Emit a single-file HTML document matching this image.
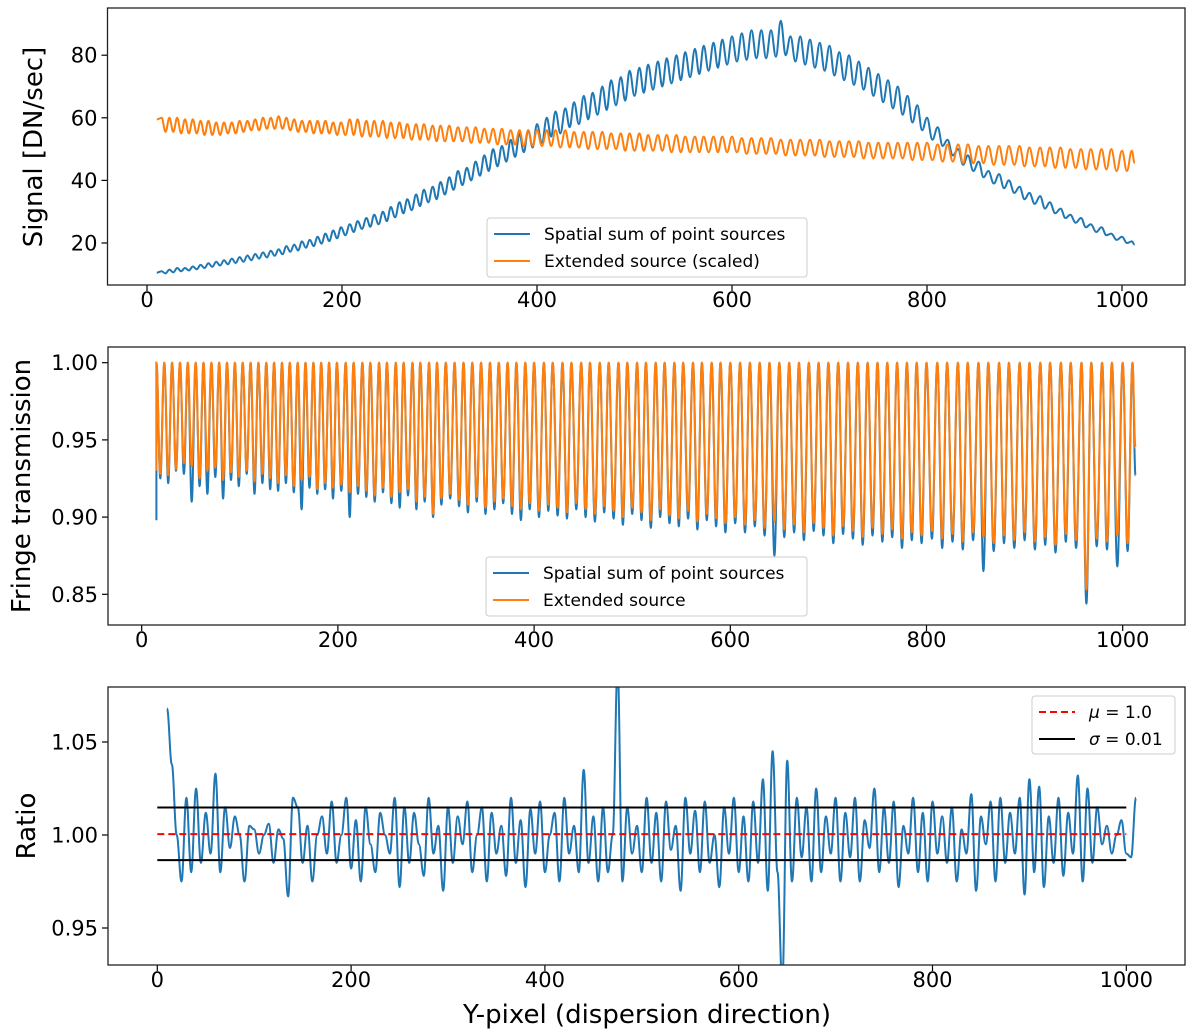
<!DOCTYPE html>
<html><head><meta charset="utf-8"><style>
html,body{margin:0;padding:0;background:#fff}
svg{display:block;font-family:"DejaVu Sans","Liberation Sans",sans-serif}
</style></head><body>
<svg id="fig" width="1200" height="1032" viewBox="0 0 1200 1032" xmlns="http://www.w3.org/2000/svg">
<defs>
<clipPath id="c1"><rect x="107.5" y="8" width="1077.5" height="277"/></clipPath>
<clipPath id="c2"><rect x="108" y="347" width="1077" height="278"/></clipPath>
<clipPath id="c3"><rect x="108" y="687" width="1077" height="278"/></clipPath>
</defs>
</svg>
<script>
// ---- data ----
const xTicks = [0,200,400,600,800,1000];
const p1YTicks = [20,40,60,80];
const p2YTicks = [0.85,0.90,0.95,1.00];
const p2YLabels = ["0.85","0.90","0.95","1.00"];
const p3YTicks = [0.95,1.00,1.05];
const p3YLabels = ["0.95","1.00","1.05"];
const fringeX = [15,23,31,39,47,55,63,71,79,87,95,103,111,119,127,135,143,151,159,167,175,183,191,199,
208,216,225,233,242,250,259,267,276,284,293,301,
310,319,328,337,346,355,364,373,382,391,400,
410,419,429,438,448,457,467,476,486,495,505,514,524,533,543,552,562,571,581,590,600,
610,620,630,640,650,660,670,680,690,700,710,720,730,740,750,760,770,780,790,800,
811,821,832,842,853,863,874,884,895,905,916,926,937,947,958,968,979,989,1000,1010];
const sigBluePeaks = [11,11.5,12,12,12.5,13,13.5,14,14.5,15,15.5,16,16.5,17,17.5,18,19,19.5,20.5,21,22,23,24,25,
26,27,28,29,30,31.5,33,34,35.5,37,38,39.5,
41,43,44,46,48,50,51,53,55,56,58,
60,62,63,65,67,68,70,72,73,75,76,77,78,79,80,81,82,83,84,85,86,
87,88,88,88,91,86,86,85,84,83,81,80,78,76,74,72,70,67,64,60,
57,53,50,48,46,43,42,40,38,36,35,33,31,29,28,26,25,23,22,20.5];
const sigBlueTroughs = [10.3,10.6,11,11.2,11.6,12,12.4,12.8,13.2,13.6,14,14.5,15,15.4,15.9,16.4,17.2,17.6,18.5,19,19.8,20.6,21.5,22.5,
23.5,24.5,25.2,26,27,28.2,29.5,30.5,31.8,33,34,35.5,
37,38.5,40,41.5,43,44.5,46,47.5,49,50.5,52,
54,55,57,58,59.5,61,62.5,64,65.5,67,68,69,70,71,72,73,74,75,76,77,78,
78.5,79,79,79.5,80,78,77,76,75,73.5,72,70.5,69,67,65,63,61,58.5,56,53,
51,48,45,43,41,39,37.5,36,34,32.5,31,29.5,28,26.5,25,23.5,22.5,21,20,19];
const sigOrangePeaks = [60,60,60,59.5,59.5,59,59,58.5,58.5,58.5,59,59,59.5,60,60,60.5,60,59.5,59,59,59,59,58.5,58.5,
59.5,59.5,59,59,59,58.5,58.5,58,58,58,57.5,57.5,
57.5,57,57,57,56.5,56.5,56.5,56,56,56,56,
56,56,56,55.5,55.5,55.5,55.5,55,55,55,55,54.5,54.5,54.5,54.5,54,54,54,54,54,54,
53.5,53.5,53.5,53.5,53,53,53,53,53,52.5,52.5,52.5,52.5,52,52,52,52,52,52,52,
51.5,51.5,51.5,51.5,51,51,51,51,51,50.5,50.5,50.5,50.5,50,50,50,50,50,49.5,49.5];
const sigOrangeTroughs = [55.5,55.5,55,55,55,54.5,54.5,54.5,55,55,55.5,56,56,56.5,56.5,56.5,56,55.5,55.5,55,55,55,54.5,54.5,
54.5,54,54,54,53.5,53.5,53.5,53,53,53,52.5,52.5,
52.5,52.5,52,52,52,51.5,51.5,51.5,51,51,51,
51,50.5,50.5,50.5,50,50,50,50,49.5,49.5,49.5,49.5,49.5,49,49,49,49,49,49,49,49,
48.5,48.5,48.5,48.5,48,48,48,48,47.5,47.5,47.5,47.5,47,47,47,47,47,46.5,46.5,46.5,
46,46,45.5,45.5,45.5,45,45,45,44.5,44.5,44.5,44,44,44,43.5,43.5,43.5,43,43,43];
const fringeOrangeTroughs = [.928,.927,.931,.935,.933,.925,.930,.932,.924,.929,.926,.930,.923,.928,.925,.922,.927,.920,.924,.926,.918,.922,.919,.921,
.916,.920,.917,.914,.919,.913,.916,.918,.910,.913,.902,.912,
.915,.911,.908,.913,.906,.910,.912,.907,.905,.909,.904,
.908,.906,.903,.909,.905,.902,.907,.904,.900,.906,.903,.898,.905,.901,.899,.904,.897,.902,.899,.896,.900,
.895,.898,.893,.897,.892,.895,.890,.896,.893,.888,.894,.891,.887,.893,.889,.892,.886,.890,.888,.891,
.886,.889,.884,.890,.887,.883,.888,.885,.890,.884,.887,.882,.889,.885,.853,.886,.884,.888,.883,.887];
const fringeBlueTroughs = [.925,.922,.930,.928,.910,.920,.915,.926,.912,.924,.920,.928,.915,.922,.918,.917,.922,.916,.905,.919,.915,.918,.912,.917,
.900,.915,.913,.910,.916,.909,.906,.914,.905,.910,.900,.908,
.912,.907,.903,.910,.902,.905,.909,.902,.898,.905,.900,
.904,.901,.899,.905,.900,.897,.903,.899,.895,.902,.898,.893,.900,.896,.894,.899,.892,.898,.894,.890,.896,
.890,.894,.888,.875,.887,.890,.885,.891,.888,.883,.889,.886,.882,.888,.884,.887,.880,.885,.883,.886,
.880,.884,.879,.885,.865,.878,.883,.880,.885,.879,.882,.877,.884,.880,.844,.881,.879,.868,.878,.882];
const fringeStart = {x:15, blue:0.898, orange:0.930};
const fringeEnd = {x:1013, blue:0.927, orange:0.945};
const sigStart = {x:10, blue:10.5, orange:59.5};
const sigEnd = {x:1013, blue:19.5, orange:45.5};
const ratioX0 = 10, ratioStep = 5;
const ratioValues = [1.068,1.038,1.0,0.975,1.02,0.98,1.025,0.985,1.012,0.99,1.033,0.98,1.015,0.993,1.01,1.0,0.975,1.005,1.003,0.99,
1.0,1.006,0.985,1.003,0.998,0.967,1.02,1.015,0.985,1.005,0.975,1.0,1.01,0.99,1.018,0.985,1.0,1.02,0.982,1.008,
0.975,1.015,0.995,0.98,1.012,1.0,0.99,1.02,0.972,1.015,0.985,1.012,0.995,0.978,1.02,0.99,1.005,0.97,1.015,0.985,
1.01,0.995,1.018,0.98,1.0,1.015,0.975,1.012,0.99,1.005,0.978,1.02,0.985,1.008,0.972,1.014,0.99,1.018,0.98,1.0,
1.012,0.975,1.02,0.99,1.005,0.98,1.035,0.985,1.01,0.975,1.015,0.98,1.0,1.09,0.975,1.015,0.99,1.005,0.98,1.02,
0.985,1.012,0.975,1.018,0.992,1.005,0.97,1.02,0.99,1.013,0.98,1.018,0.985,1.0,0.972,1.015,0.99,1.02,0.98,1.01,
0.975,1.018,0.985,1.03,0.97,1.045,0.98,0.92,1.04,0.975,1.02,0.988,1.015,0.975,1.025,0.98,1.01,0.99,1.02,0.975,
1.012,0.988,1.02,0.975,1.008,0.993,1.025,0.98,1.015,0.985,1.018,0.972,1.005,0.99,1.02,0.98,1.012,0.975,1.018,0.99,
1.01,0.985,1.015,0.975,1.003,0.99,1.022,0.97,1.01,0.995,1.018,0.975,1.02,0.985,1.012,0.99,1.02,0.968,1.03,0.98,
1.026,0.972,1.01,0.985,1.02,0.978,1.012,0.99,1.032,0.975,1.025,0.985,1.015,0.995,1.005,0.99,1.0,1.008,0.99,0.988,1.02];
const muValue = 1.0005, sigmaHi = 1.0148, sigmaLo = 0.9865, refX0 = 0, refX1 = 1000;

// ---- axes ----
const BLUE="#1f77b4", ORANGE="#ff7f0e";
const NS="http://www.w3.org/2000/svg";
const svg=document.getElementById('fig');
function el(tag,attrs,parent,txt){const e=document.createElementNS(NS,tag);for(const k in attrs)e.setAttribute(k,attrs[k]);if(txt!==undefined)e.textContent=txt;(parent||svg).appendChild(e);return e;}
const x1=v=>147+0.975*v, y1=v=>243-(v-20)*3.13;
const x2=v=>141.7+0.981*v, y2=v=>362.7+(1-v)*1544;
const x3=v=>157.3+0.969*v, y3=v=>835-(v-1)*1860;

function smoothPath(pts){
  let d=`M${pts[0][0].toFixed(1)},${pts[0][1].toFixed(1)}`;
  for(let i=1;i<pts.length;i++){const a=pts[i-1],b=pts[i];const dx=(b[0]-a[0])/2.6;
    d+=`C${(a[0]+dx).toFixed(1)},${a[1].toFixed(1)} ${(b[0]-dx).toFixed(1)},${b[1].toFixed(1)} ${b[0].toFixed(1)},${b[1].toFixed(1)}`;}
  return d;}
function fringePts(start,end,peaks,troughs,xf,yf,peakConst){
  const pts=[[xf(start.x),yf(start.v)]];
  for(let i=0;i<fringeX.length;i++){
    const pv=peakConst!==undefined?peakConst:peaks[i];
    pts.push([xf(fringeX[i]),yf(pv)]);
    if(i<fringeX.length-1){const tx=(fringeX[i]+fringeX[i+1])/2;pts.push([xf(tx),yf(troughs[i])]);}
  }
  pts.push([xf(end.x),yf(end.v)]);return pts;}

function axes(name,box,xf,yTicks,yLabels,yf,ylabel,ylx,yly,xlabY){
  const g=el('g',{},svg);
  
  
  xTicks.forEach(t=>{const X=xf(t);
    const tk=el('line',{x1:X,x2:X,y1:box[3],y2:box[3]+6,stroke:'#000','stroke-width':1.2},g);
    
    const tl=el('text',{x:X,y:xlabY,'text-anchor':'middle','font-size':21},g,String(t));
    });
  yTicks.forEach((t,i)=>{const Y=yf(t);
    const tk=el('line',{x1:box[0]-6,x2:box[0],y1:Y,y2:Y,stroke:'#000','stroke-width':1.2},g);
    
    const tl=el('text',{x:box[0]-10,y:Y+7.5,'text-anchor':'end','font-size':21},g,yLabels?yLabels[i]:String(t));
    });
  const yl=el('text',{x:ylx,y:yly,'text-anchor':'middle','font-size':26,transform:`rotate(-90 ${ylx} ${yly})`},g,ylabel);
  
  return g;}
function frame(box){const r=el('rect',{x:box[0],y:box[1],width:box[2]-box[0],height:box[3]-box[1],fill:'none',stroke:'#222','stroke-width':1.3});
  }
function legend(x,y,w,h,items,name){
  const g=el('g',{},svg);
  
  
  el('rect',{x:x,y:y,width:w,height:h,rx:3,fill:'#fff','fill-opacity':0.85,stroke:'#ccc'},g);
  items.forEach((it,i)=>{const cy=y+16+i*27;
    const ln=el('line',{x1:x+7,x2:x+43,y1:cy,y2:cy,stroke:it.c,'stroke-width':2,'stroke-dasharray':it.dash||'none'},g);
    
    const t=el('text',{x:x+57,y:cy+6,'font-size':17},g);
    
    if(it.sym){const s=el('tspan',{'font-style':'italic'},t,it.sym);el('tspan',{},t,it.t);}else t.textContent=it.t;});}

// Panel 1
const B1=[107.5,8,1185,285];
axes('signal-axes',B1,x1,p1YTicks,null,y1,'Signal [DN/sec]',42,147,307);
let g1=el('g',{'clip-path':'url(#c1)'});
let s=el('path',{d:smoothPath(fringePts({x:sigStart.x,v:sigStart.blue},{x:sigEnd.x,v:sigEnd.blue},sigBluePeaks,sigBlueTroughs,x1,y1)),fill:'none',stroke:BLUE,'stroke-width':2},g1);


s=el('path',{d:smoothPath(fringePts({x:sigStart.x,v:sigStart.orange},{x:sigEnd.x,v:sigEnd.orange},sigOrangePeaks,sigOrangeTroughs,x1,y1)),fill:'none',stroke:ORANGE,'stroke-width':2},g1);


frame(B1);
legend(487,218,320,59,[{c:BLUE,t:'Spatial sum of point sources'},{c:ORANGE,t:'Extended source (scaled)'}],'signal-legend');

// Panel 2
const B2=[108,347,1185,625];
axes('fringe-axes',B2,x2,p2YTicks,p2YLabels,y2,'Fringe transmission',30,486,647);
let g2=el('g',{'clip-path':'url(#c2)'});
s=el('path',{d:smoothPath(fringePts({x:fringeStart.x,v:fringeStart.blue},{x:fringeEnd.x,v:fringeEnd.blue},null,fringeBlueTroughs,x2,y2,1.0)),fill:'none',stroke:BLUE,'stroke-width':2},g2);


s=el('path',{d:smoothPath(fringePts({x:fringeStart.x,v:fringeStart.orange},{x:fringeEnd.x,v:fringeEnd.orange},null,fringeOrangeTroughs,x2,y2,1.0)),fill:'none',stroke:ORANGE,'stroke-width':2},g2);


frame(B2);
legend(486,557,321,59,[{c:BLUE,t:'Spatial sum of point sources'},{c:ORANGE,t:'Extended source'}],'fringe-legend');

// Panel 3
const B3=[108,687,1185,965];
axes('ratio-axes',B3,x3,p3YTicks,p3YLabels,y3,'Ratio',35,826,987);
let g3=el('g',{'clip-path':'url(#c3)'});
const rpts=ratioValues.map((v,i)=>[x3(ratioX0+i*ratioStep),y3(v)]);
s=el('path',{d:smoothPath(rpts),fill:'none',stroke:BLUE,'stroke-width':2,'stroke-linejoin':'round'},g3);


[sigmaHi,sigmaLo].forEach(v=>{const l=el('line',{x1:x3(refX0),x2:x3(refX1),y1:y3(v),y2:y3(v),stroke:'#000','stroke-width':2},g3);
  });
s=el('line',{x1:x3(refX0),x2:x3(refX1),y1:y3(muValue),y2:y3(muValue),stroke:'#f00','stroke-width':2,'stroke-dasharray':'7,4'},g3);


frame(B3);
legend(1032,696,143,58,[{c:'#f00',dash:'7,4',sym:'μ',t:' = 1.0'},{c:'#000',sym:'σ',t:' = 0.01'}],'ratio-legend');
s=el('text',{x:647,y:1023,'text-anchor':'middle','font-size':26},svg,'Y-pixel (dispersion direction)');


</script>
</body></html>
